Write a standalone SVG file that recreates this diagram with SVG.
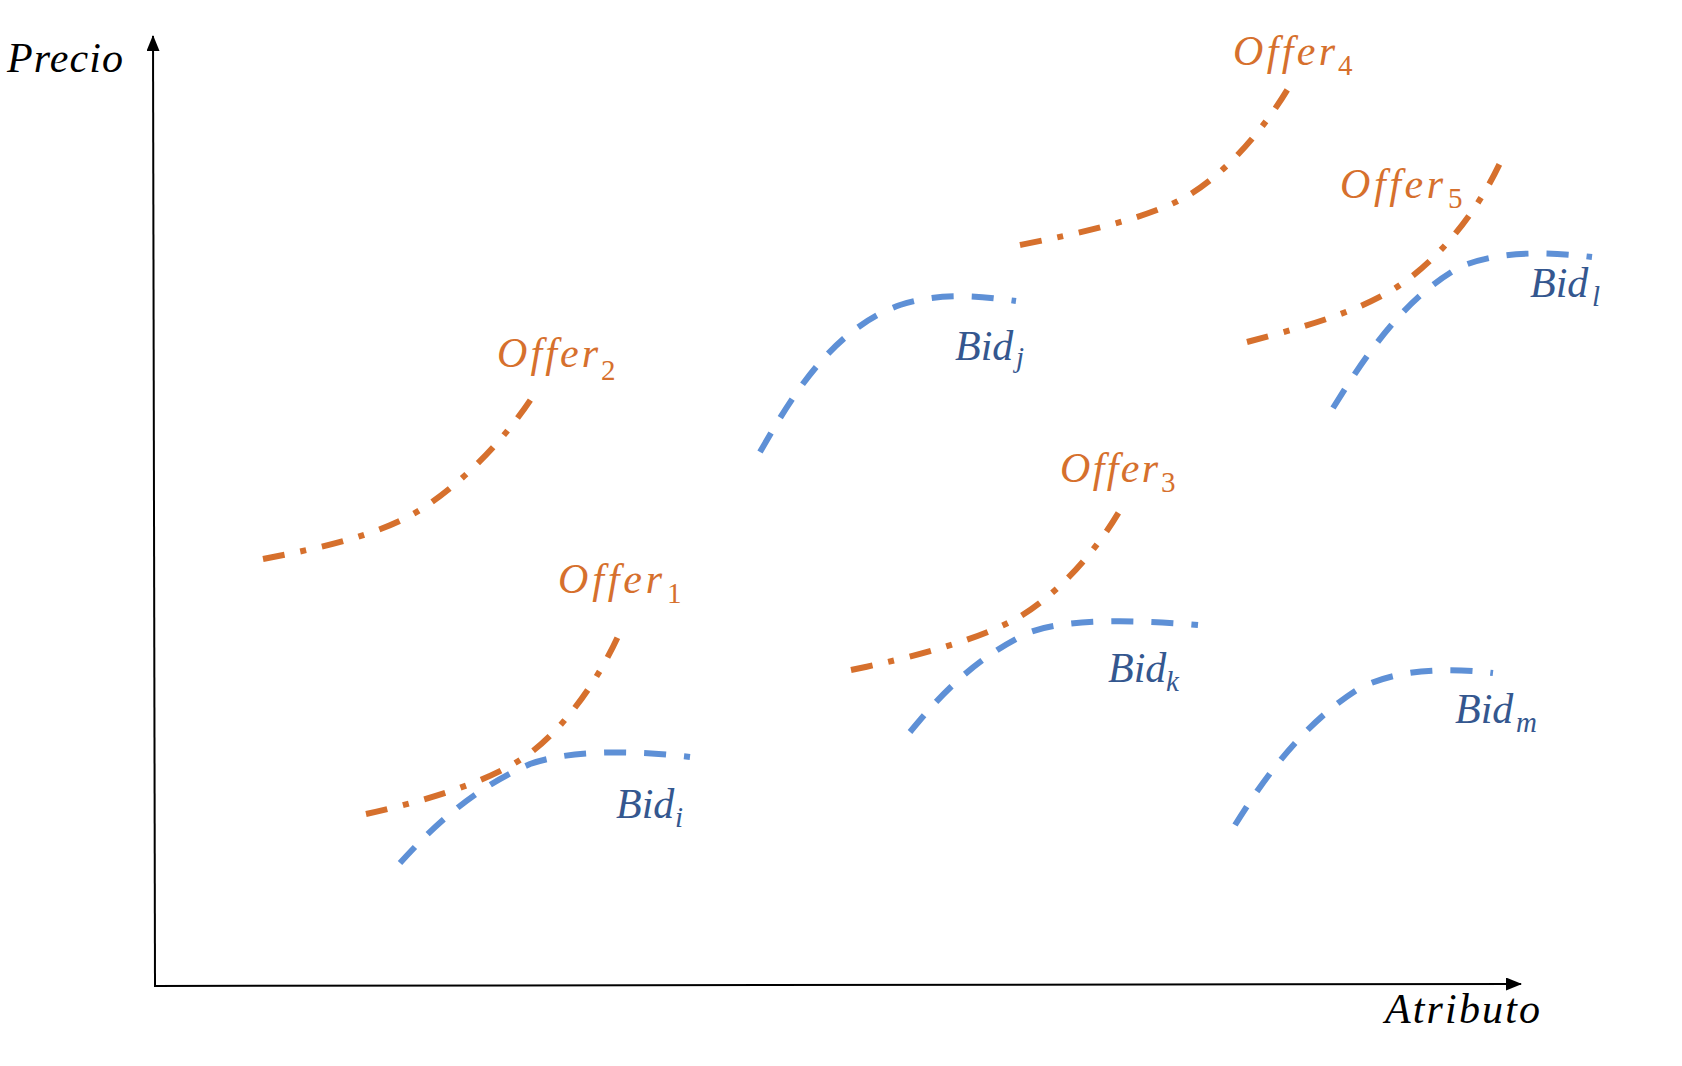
<svg xmlns="http://www.w3.org/2000/svg" width="1682" height="1066" viewBox="0 0 1682 1066">
  <style>
    .axis { fill: none; stroke: #000000; stroke-width: 2; }
    .offer { fill: none; stroke: #D6702D; stroke-width: 6; stroke-dasharray: 22 16 6 16; }
    .bid { fill: none; stroke: #5E90D6; stroke-width: 6; stroke-dasharray: 22 18; }
    .lbl { font-family: "Liberation Serif", "DejaVu Serif", serif; font-style: italic; font-size: 42px; }
    .sub { font-family: "Liberation Serif", "DejaVu Serif", serif; font-size: 29px; }
    .subi { font-family: "Liberation Serif", "DejaVu Serif", serif; font-style: italic; font-size: 29px; }
    .ax { fill: #000000; }
    .o { fill: #D6702D; }
    .b { fill: #34578F; }
  </style>
  <defs>
    <marker id="arr" viewBox="0 0 16 13" refX="15" refY="6.5" markerWidth="16" markerHeight="13" orient="auto" markerUnits="userSpaceOnUse">
      <path d="M0,0 L16,6.5 L0,13 Z" fill="#000000"/>
    </marker>
  </defs>
  <rect width="1682" height="1066" fill="#FFFFFF"/>

  <g id="axes">
    <path class="axis" d="M155,986 L153,36" marker-end="url(#arr)"/>
    <path class="axis" d="M154,986 L1521,984" marker-end="url(#arr)"/>
    <text class="lbl ax" x="7" y="72" textLength="116" lengthAdjust="spacing">Precio</text>
    <text class="lbl ax" x="1385" y="1023" textLength="155" lengthAdjust="spacing">Atributo</text>
  </g>

  <g id="offer1">
    <path class="offer" d="M366,814 C420,802 480,785 520,760 C560,735 600,680 623,625"/>
    <text class="lbl o" x="558" y="593" textLength="104" lengthAdjust="spacing">Offer</text>
    <text class="sub o" x="667" y="603">1</text>
  </g>
  <g id="offer2">
    <path class="offer" d="M263,559 C320,548 380,535 420,510 C460,485 505,440 535,393"/>
    <text class="lbl o" x="497" y="367" textLength="101" lengthAdjust="spacing">Offer</text>
    <text class="sub o" x="601" y="380">2</text>
  </g>
  <g id="offer3">
    <path class="offer" d="M851,670 C910,658 970,642 1010,622 C1050,602 1095,555 1123,505"/>
    <text class="lbl o" x="1060" y="482" textLength="98" lengthAdjust="spacing">Offer</text>
    <text class="sub o" x="1161" y="492">3</text>
  </g>
  <g id="offer4">
    <path class="offer" d="M1020,245 C1080,233 1140,220 1180,200 C1220,180 1265,130 1293,80"/>
    <text class="lbl o" x="1233" y="65" textLength="102" lengthAdjust="spacing">Offer</text>
    <text class="sub o" x="1338" y="75">4</text>
  </g>
  <g id="offer5">
    <path class="offer" d="M1247,342 C1300,328 1360,312 1400,285 C1440,258 1480,210 1505,152"/>
    <text class="lbl o" x="1340" y="198" textLength="103" lengthAdjust="spacing">Offer</text>
    <text class="sub o" x="1448" y="208">5</text>
  </g>

  <g id="bid-i">
    <path class="bid" d="M400,863 C430,830 470,790 530,764 C570,750 630,750 690,757"/>
    <text class="lbl b" x="616" y="818">Bid</text>
    <text class="subi b" x="675" y="827">i</text>
  </g>
  <g id="bid-j">
    <path class="bid" d="M760,452 C790,400 830,330 900,305 C940,292 980,296 1016,301"/>
    <text class="lbl b" x="955" y="360">Bid</text>
    <text class="subi b" x="1016" y="367">j</text>
  </g>
  <g id="bid-k">
    <path class="bid" d="M910,732 C935,702 970,660 1030,632 C1070,618 1140,620 1198,625"/>
    <text class="lbl b" x="1108" y="682">Bid</text>
    <text class="subi b" x="1166" y="691">k</text>
  </g>
  <g id="bid-l">
    <path class="bid" d="M1333,408 C1360,365 1400,300 1460,267 C1500,250 1550,252 1592,257"/>
    <text class="lbl b" x="1530" y="297">Bid</text>
    <text class="subi b" x="1592" y="306">l</text>
  </g>
  <g id="bid-m">
    <path class="bid" d="M1235,825 C1260,785 1300,725 1360,688 C1400,668 1450,668 1493,673"/>
    <text class="lbl b" x="1455" y="723">Bid</text>
    <text class="subi b" x="1516" y="732">m</text>
  </g>
</svg>
